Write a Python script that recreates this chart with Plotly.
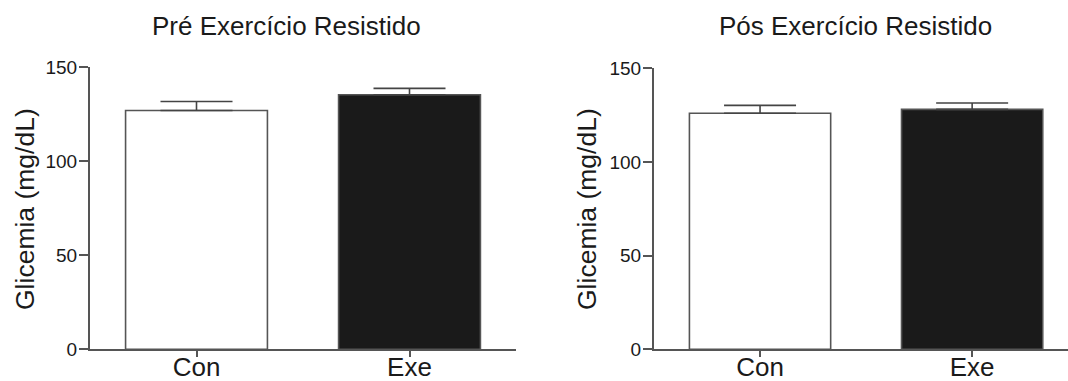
import plotly.graph_objects as go

W, H = 1068, 381

categories = ["Con", "Exe"]
pre_means = [127.0, 135.4]
pre_sem = [4.8, 3.4]
post_means = [126.0, 128.1]
post_sem = [4.2, 3.4]
titles = ["Pré Exercício Resistido", "Pós Exercício Resistido"]
y_title = "Glicemia (mg/dL)"
y_ticks = [0, 50, 100, 150]

bar_fill = ["#ffffff", "#1a1a1a"]
line_col = "#555555"
text_col = "#1a1a1a"
font_fam = "Liberation Sans, Arial, sans-serif"

fig = go.Figure()

for i, (means, sems) in enumerate([(pre_means, pre_sem), (post_means, post_sem)]):
    sfx = "" if i == 0 else str(i + 1)
    fig.add_trace(go.Bar(
        x=[0, 1], y=means,
        width=0.666,
        marker=dict(color=bar_fill, line=dict(color=line_col, width=1.6)),
        error_y=dict(type="data", symmetric=False, array=sems, arrayminus=[0, 0],
                     color="#444444", thickness=1.6, width=36),
        xaxis="x" + sfx, yaxis="y" + sfx, showlegend=False,
    ))

def px_x(p):
    return p / W

def px_y(p):
    return 1 - p / H

xcommon = dict(tickvals=[0, 1], ticktext=categories, showline=True, linecolor=line_col,
               linewidth=2, ticks="outside", ticklen=6, tickwidth=1.6, tickcolor=line_col,
               showgrid=False, zeroline=False, automargin=False, ticklabelstandoff=-13,
               tickfont=dict(family=font_fam, size=26, color=text_col))
ycommon = dict(range=[0, 150], tickvals=y_ticks, showline=True, linecolor=line_col,
               linewidth=2, ticks="outside", ticklen=9, tickwidth=1.6, tickcolor=line_col,
               showgrid=False, zeroline=False, automargin=False, ticklabelstandoff=-2,
               tickfont=dict(family=font_fam, size=19, color=text_col))

fig.update_layout(
    width=W, height=H,
    margin=dict(l=0, r=0, t=0, b=0, pad=0, autoexpand=False),
    paper_bgcolor="white", plot_bgcolor="white",
    xaxis=dict(domain=[px_x(90), px_x(516)], range=[-0.5, 1.5], anchor="y", **xcommon),
    yaxis=dict(domain=[px_y(349.3), px_y(67.3)], anchor="x", **ycommon),
    xaxis2=dict(domain=[px_x(654), 1.0], range=[-0.5, 1.452], anchor="y2", **xcommon),
    yaxis2=dict(domain=[px_y(349.3), px_y(68.3)], anchor="x2", **ycommon),
    annotations=[
        dict(text=titles[0], x=px_x(286), y=px_y(26), xref="paper", yref="paper",
             showarrow=False, xanchor="center", yanchor="middle",
             font=dict(family=font_fam, size=26, color=text_col)),
        dict(text=titles[1], x=px_x(855), y=px_y(26), xref="paper", yref="paper",
             showarrow=False, xanchor="center", yanchor="middle",
             font=dict(family=font_fam, size=26, color=text_col)),
        dict(text=y_title, x=px_x(25), y=px_y(209), xref="paper", yref="paper",
             showarrow=False, xanchor="center", yanchor="middle", textangle=-90,
             font=dict(family=font_fam, size=26.5, color=text_col)),
        dict(text=y_title, x=px_x(587), y=px_y(209), xref="paper", yref="paper",
             showarrow=False, xanchor="center", yanchor="middle", textangle=-90,
             font=dict(family=font_fam, size=26.5, color=text_col)),
    ],
)

fig.write_html("out.html", config={"displayModeBar": False},
               post_script="document.body.style.margin='0';document.body.style.overflow='hidden';")
